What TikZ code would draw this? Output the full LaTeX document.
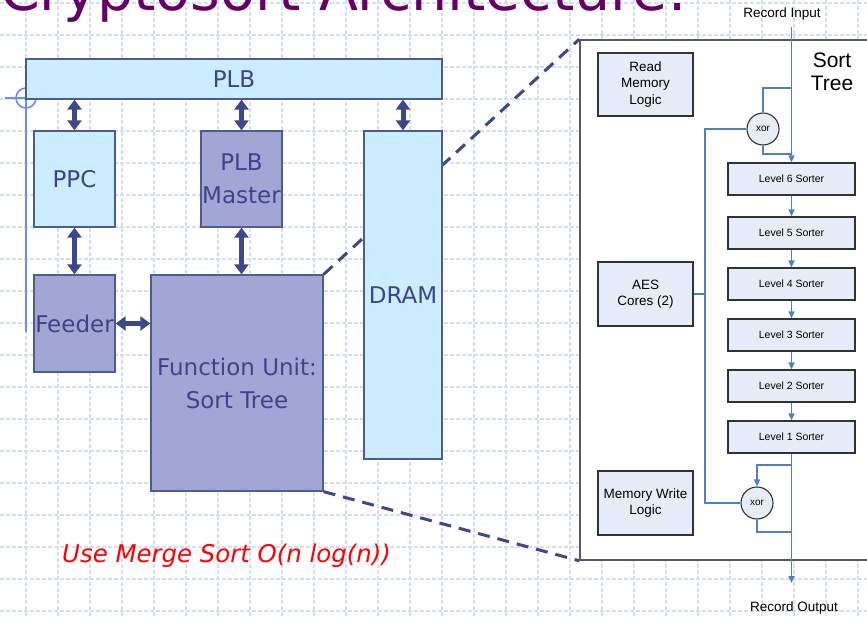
\documentclass[tikz,border=0pt]{standalone}
\usepackage{fontspec}
\setmainfont{DejaVu Sans}
\newfontfamily\panelfont{Liberation Sans}
\usetikzlibrary{arrows.meta}

\definecolor{gridblue}{RGB}{212,221,250}
\definecolor{titlepurple}{RGB}{102,0,102}
\definecolor{busblue}{RGB}{62,70,140}
\definecolor{boxedge}{RGB}{80,90,150}
\definecolor{plbfill}{RGB}{204,236,255}
\definecolor{unitfill}{RGB}{161,166,212}
\definecolor{blocktext}{RGB}{62,68,140}
\definecolor{flowblue}{RGB}{79,129,189}
\definecolor{stepfill}{RGB}{230,236,248}
\definecolor{stepedge}{RGB}{50,50,50}
\definecolor{paneledge}{RGB}{90,90,90}
\definecolor{guideblue}{RGB}{110,140,240}

\begin{document}
\begin{tikzpicture}[x=1pt,y=-1pt,
  gridline/.style={draw=gridblue, line width=1.1pt, dash pattern=on 4pt off 2pt},
  block/.style={draw=boxedge, line width=1.3pt, inner sep=0pt, text=blocktext,
    align=center, font=\fontsize{23}{33}\selectfont},
  lightblock/.style={block, fill=plbfill},
  darkblock/.style={block, fill=unitfill},
  bus/.style={draw=busblue, line width=5pt,
    {Triangle[width=14pt,length=10pt]}-{Triangle[width=14pt,length=10pt]}},
  zoomline/.style={draw=busblue, line width=3pt, dash pattern=on 12pt off 8pt},
  stage/.style={draw=stepedge, line width=1.2pt, fill=stepfill, inner sep=0pt,
    align=center, font=\panelfont\fontsize{13.5}{16.5}\selectfont},
  sidebox/.style={stage, minimum width=95pt, minimum height=63pt},
  sorter/.style={stage, minimum width=127pt, minimum height=32pt,
    font=\panelfont\fontsize{10.5}{12}\selectfont},
  xorgate/.style={circle, draw=stepedge, line width=1.1pt, fill=stepfill,
    minimum size=32pt, inner sep=0pt, font=\panelfont\fontsize{10}{12}\selectfont},
  flow/.style={draw=flowblue, line width=1.5pt},
  flowarrow/.style={flow, -{Triangle[length=7pt,width=6pt]}},
  caption/.style={inner sep=0pt, font=\panelfont\fontsize{13.5}{15}\selectfont},
]
\useasboundingbox (0,0) rectangle (867,618);
\clip (0,0) rectangle (867,618);
\fill[white] (0,0) rectangle (867,618);

% background grid
\foreach \gx in {26,58,...,858} \draw[gridline] (\gx,0) -- (\gx,618);
\foreach \gy in {3,35,...,611} \draw[gridline] (0,\gy) -- (867,\gy);

% title
\node[anchor=base west, inner sep=0pt, text=titlepurple,
  font=\fontsize{57}{60}\selectfont] (title) at (0,11) {Cryptosort Architecture.};

% guide mark at the bus corner
\draw[guideblue, line width=1.6pt] (26,98) circle[radius=10pt];
\draw[guideblue, line width=1.6pt] (5,98) -- (26,98) -- (26,332);

% magnified view of the sort tree
\node[draw=paneledge, line width=1.5pt, fill=white, inner sep=0pt,
  minimum width=320pt, minimum height=520pt] (panel) at (740,300) {};

% system blocks
\node[darkblock, minimum width=172pt, minimum height=216pt] (fu) at (237,383) {Function Unit:\\Sort Tree};
\node[darkblock, minimum width=81pt, minimum height=97pt] (feeder) at (74.5,323.5) {Feeder};
\node[lightblock, minimum width=81pt, minimum height=96pt] (ppc) at (74.5,179) {PPC};
\node[darkblock, minimum width=81pt, minimum height=96pt] (plbm) at (241.5,179) {PLB\\Master};
\node[lightblock, minimum width=416pt, minimum height=40pt] (plb) at (234,79) {PLB};

% zoom lines from the function unit to the detail view
\draw[zoomline] (fu.north east) -- (panel.north west);
\draw[zoomline] (fu.south east) -- (panel.south west);

\node[lightblock, minimum width=78pt, minimum height=328pt] (dram) at (403,295) {DRAM};

% bus connections
\draw[bus] (ppc.north) -- (ppc.north |- plb.south);
\draw[bus] (plbm.north) -- (plbm.north |- plb.south);
\draw[bus] (dram.north) -- (dram.north |- plb.south);
\draw[bus] (ppc.south) -- (ppc.south |- feeder.north);
\draw[bus] (plbm.south) -- (plbm.south |- fu.north);
\draw[bus] (feeder.east) -- (feeder.east -| fu.west);

\node[anchor=base west, inner sep=0pt, text=red,
  font=\itshape\fontsize{24.4}{28}\selectfont] (note) at (62,562) {Use Merge Sort O(n log(n))};

% detail view contents
\node[inner sep=0pt, align=center, font=\panelfont\fontsize{21}{23}\selectfont] (sorttitle) at (832,71.5) {Sort\\Tree};
\node[caption] (recin) at (782,14) {Record Input};
\node[caption] (recout) at (794,608) {Record Output};

\node[sidebox] (rml) at (645.5,84.5) {Read\\Memory\\Logic};
\node[sidebox, minimum height=64pt] (aes) at (645.5,294) {AES\\Cores (2)};
\node[sidebox, minimum height=64pt] (mwl) at (645.5,503) {Memory Write\\Logic};

\foreach \lv/\yy in {6/179, 5/233, 4/284, 3/335, 2/386, 1/437}
  \node[sorter] (L\lv) at (791.5,\yy) {Level \lv{} Sorter};

\node[xorgate] (xa) at (763,129) {xor};
\node[xorgate] (xb) at (757,503) {xor};

\coordinate (in) at (791.5,27);
\coordinate (out) at (791.5,583);
\coordinate (ta) at (791.5,88);
\coordinate (tb) at (791.5,154);
\coordinate (ba) at (791.5,465);
\coordinate (bb) at (791.5,532);
\coordinate (lu) at (705,129);
\coordinate (ld) at (705,503);

\draw[flowarrow] (in) -- (L6.north);
\foreach \a/\b in {6/5,5/4,4/3,3/2,2/1}
  \draw[flowarrow] (L\a.south) -- (L\b.north);
\draw[flowarrow] (L1.south) -- (out);

\draw[flow] (ta) -| (xa.north);
\draw[flow] (xa.south) |- (tb);
\draw[flow] (xa.west) -- (lu) -- (ld) -- (xb.west);
\draw[flow] (aes.east) -- (aes.east -| lu);
\draw[flowarrow] (ba) -| (xb.north);
\draw[flow] (xb.south) |- (bb);
\end{tikzpicture}
\end{document}
